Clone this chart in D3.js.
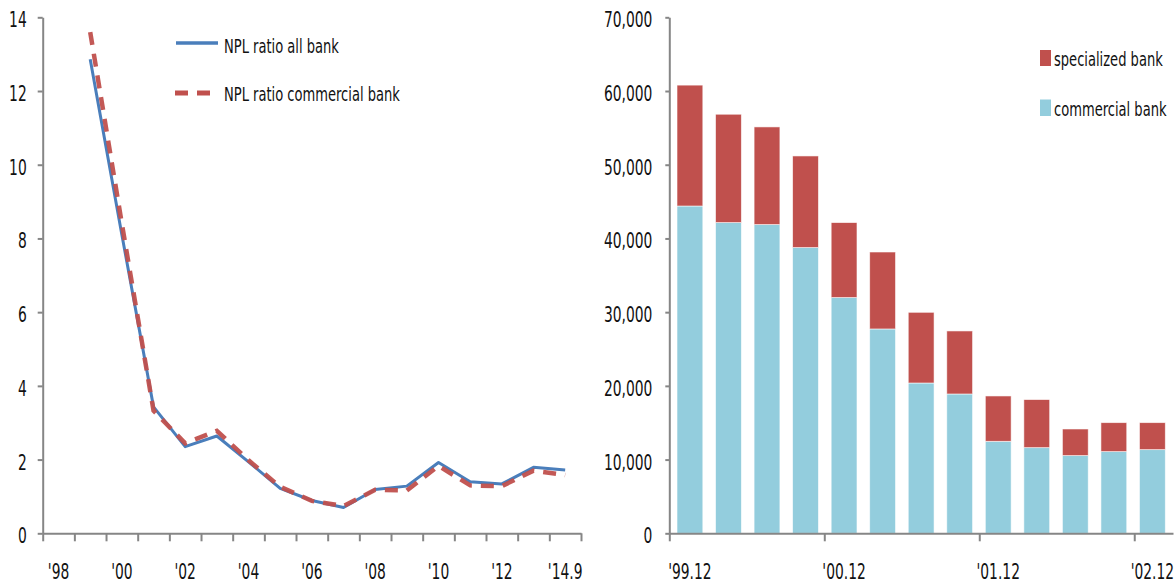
<!DOCTYPE html>
<html>
<head>
<meta charset="utf-8">
<script src="https://cdn.jsdelivr.net/npm/d3@7/dist/d3.min.js"></script>
<style>
  html, body { margin: 0; padding: 0; background: #fff; }
  svg { display: block; }
  text { font-family: 'Liberation Sans Narrow', 'DejaVu Sans Condensed', 'Liberation Sans', sans-serif; fill: #111; }
</style>
</head>
<body>
<svg id="chart" width="1176" height="584"></svg>
<script>
// ---------- data: left chart (NPL ratio, %) ----------
const years = ["'98","'99","'00","'01","'02","'03","'04","'05","'06","'07","'08","'09","'10","'11","'12","'13","'14.9"];
const yearLabels = ["'98","'00","'02","'04","'06","'08","'10","'12","'14.9"];
const nplAllBank = [null, 12.86, 8.1, 3.43, 2.35, 2.64, 1.94, 1.22, 0.89, 0.70, 1.19, 1.28, 1.92, 1.40, 1.34, 1.79, 1.72];
const nplCommercial = [null, 13.6, 8.4, 3.33, 2.44, 2.78, 1.98, 1.26, 0.88, 0.74, 1.18, 1.16, 1.83, 1.30, 1.28, 1.70, 1.58];
const leftTicks = [0, 2, 4, 6, 8, 10, 12, 14];

// ---------- data: right chart (NPL amount) ----------
const quarters = ["'99.12","'00.3","'00.6","'00.9","'00.12","'01.3","'01.6","'01.9","'01.12","'02.3","'02.6","'02.9","'02.12"];
const quarterLabels = ["'99.12","'00.12","'01.12","'02.12"];
const commercialBank = [44400, 42150, 41880, 38760, 31980, 27720, 20390, 18900, 12480, 11620, 10540, 11080, 11350];
const specializedBank = [16400, 14700, 13250, 12430, 10170, 10440, 9590, 8550, 6150, 6520, 3610, 3930, 3660];
const rightTicks = [0, 10000, 20000, 30000, 40000, 50000, 60000, 70000];

// ---------- styling ----------
const axisColor = "#868686";
const blueLine = "#4a7ebb";
const redLine = "#c0504d";
const redBar = "#c0504d";
const blueBar = "#93cddd";
const tickSqueeze = 0.70;
const legendSqueeze = 0.765;

const svg = d3.select("#chart");

function squeeze(sel, s) {
  sel.each(function () {
    const t = d3.select(this);
    const x = +t.attr("x") || 0;
    const y = +t.attr("y") || 0;
    t.attr("x", 0).attr("y", 0).attr("transform", `translate(${x},${y}) scale(${s},1)`);
  });
}

function styleAxis(g) {
  g.selectAll("path.domain").attr("stroke", axisColor).attr("stroke-width", 2);
  g.selectAll(".tick line").attr("stroke", axisColor).attr("stroke-width", 2);
}

// ================= LEFT CHART =================
const L = { x0: 42.7, x1: 581, yTop: 17.3, yBot: 533.3 };
const xL = d3.scaleBand().domain(years).range([L.x0, L.x1]).padding(0);
const xLb = d3.scaleLinear().domain([0, years.length]).range([L.x0, L.x1]);
const yL = d3.scaleLinear().domain([0, 14]).range([L.yBot, L.yTop]);

const gL = svg.append("g");

// y axis
const yAxL = gL.append("g").attr("transform", `translate(${L.x0},0)`)
  .call(d3.axisLeft(yL).tickValues(leftTicks).tickSize(5).tickSizeOuter(0).tickFormat(d3.format("d")));
styleAxis(yAxL);
yAxL.selectAll(".tick text").attr("x", -16).attr("dy", "0.43em").attr("font-size", 22).attr("fill", "#111");
squeeze(yAxL.selectAll(".tick text"), tickSqueeze);

// x axis tick marks at category boundaries
const xTickL = gL.append("g").attr("transform", `translate(0,${L.yBot})`)
  .call(d3.axisBottom(xLb).tickValues(d3.range(0, years.length + 1)).tickSize(8).tickSizeOuter(0).tickFormat(""));
styleAxis(xTickL);
// x labels
const xLabL = gL.append("g").attr("transform", `translate(0,${L.yBot})`)
  .call(d3.axisBottom(xL).tickValues(yearLabels).tickSize(0));
xLabL.select("path.domain").remove();
xLabL.selectAll(".tick text").attr("y", 46).attr("dy", 0).attr("font-size", 22).attr("fill", "#111");
squeeze(xLabL.selectAll(".tick text"), tickSqueeze);

// lines
const lineGen = d3.line()
  .defined(d => d.v != null)
  .x(d => xL(d.k) + xL.bandwidth() / 2)
  .y(d => yL(d.v));

gL.append("path")
  .datum(years.map((k, i) => ({ k, v: nplAllBank[i] })))
  .attr("d", lineGen)
  .attr("fill", "none").attr("stroke", blueLine).attr("stroke-width", 3).attr("stroke-linejoin", "round");

gL.append("path")
  .datum(years.map((k, i) => ({ k, v: nplCommercial[i] })))
  .attr("d", lineGen)
  .attr("fill", "none").attr("stroke", redLine).attr("stroke-width", 4.5)
  .attr("stroke-dasharray", "13,9").attr("stroke-opacity", 0.95);

// legend left
const legL = gL.append("g");
legL.append("line").attr("x1", 176).attr("x2", 218).attr("y1", 43).attr("y2", 43)
  .attr("stroke", blueLine).attr("stroke-width", 3.5);
legL.append("text").attr("x", 224).attr("y", 53).attr("font-size", 19).text("NPL ratio all bank");
legL.append("line").attr("x1", 175).attr("x2", 219).attr("y1", 93).attr("y2", 93)
  .attr("stroke", redLine).attr("stroke-width", 5).attr("stroke-dasharray", "13,9");
legL.append("text").attr("x", 224).attr("y", 101).attr("font-size", 19).text("NPL ratio commercial bank");
squeeze(legL.selectAll("text"), legendSqueeze);

// ================= RIGHT CHART =================
const R = { x0: 669.3, x1: 1173, yTop: 17.3, yBot: 533.3 };
const xR = d3.scaleBand().domain(quarters).range([R.x0, R.x1]).paddingInner(0.33).paddingOuter(0.2);
const xRb = d3.scaleLinear().domain([0, quarters.length]).range([R.x0, R.x1]);
const yR = d3.scaleLinear().domain([0, 70000]).range([R.yBot, R.yTop]);

const gR = svg.append("g");

const rows = quarters.map((q, i) => ({ q, commercial: commercialBank[i], specialized: specializedBank[i] }));
const stack = d3.stack().keys(["commercial", "specialized"])(rows);
const colors = { commercial: blueBar, specialized: redBar };

gR.append("g").selectAll("g").data(stack).join("g")
  .attr("fill", d => colors[d.key])
  .selectAll("rect").data(d => d).join("rect")
  .attr("x", d => xR(d.data.q))
  .attr("width", xR.bandwidth())
  .attr("y", d => yR(d[1]))
  .attr("height", d => yR(d[0]) - yR(d[1]))
  .attr("stroke", "#fff").attr("stroke-width", 0.8).attr("stroke-opacity", 0.7);

const yAxR = gR.append("g").attr("transform", `translate(${R.x0},0)`)
  .call(d3.axisLeft(yR).tickValues(rightTicks).tickSize(4).tickSizeOuter(0).tickFormat(d3.format(",")));
styleAxis(yAxR);
yAxR.selectAll(".tick text").attr("x", -17).attr("dy", "0.43em").attr("font-size", 22).attr("fill", "#111");
squeeze(yAxR.selectAll(".tick text"), tickSqueeze);

const xTickR = gR.append("g").attr("transform", `translate(0,${R.yBot})`)
  .call(d3.axisBottom(xRb).tickValues([0, 4, 8, 12]).tickSize(8).tickSizeOuter(0).tickFormat(""));
styleAxis(xTickR);
const xLabR = gR.append("g").attr("transform", `translate(0,${R.yBot})`)
  .call(d3.axisBottom(xR).tickValues(quarterLabels).tickSize(0));
xLabR.select("path.domain").remove();
xLabR.selectAll(".tick text").attr("y", 46).attr("dy", 0).attr("font-size", 22).attr("fill", "#111");
squeeze(xLabR.selectAll(".tick text"), tickSqueeze);

// legend right
const legR = gR.append("g");
legR.append("rect").attr("x", 1040).attr("y", 50).attr("width", 11).attr("height", 16).attr("fill", redBar);
legR.append("text").attr("x", 1054).attr("y", 66).attr("font-size", 19).text("specialized bank");
legR.append("rect").attr("x", 1040).attr("y", 99.5).attr("width", 11).attr("height", 16.5).attr("fill", blueBar);
legR.append("text").attr("x", 1054).attr("y", 116).attr("font-size", 19).text("commercial bank");
squeeze(legR.selectAll("text"), legendSqueeze);
</script>
</body>
</html>
